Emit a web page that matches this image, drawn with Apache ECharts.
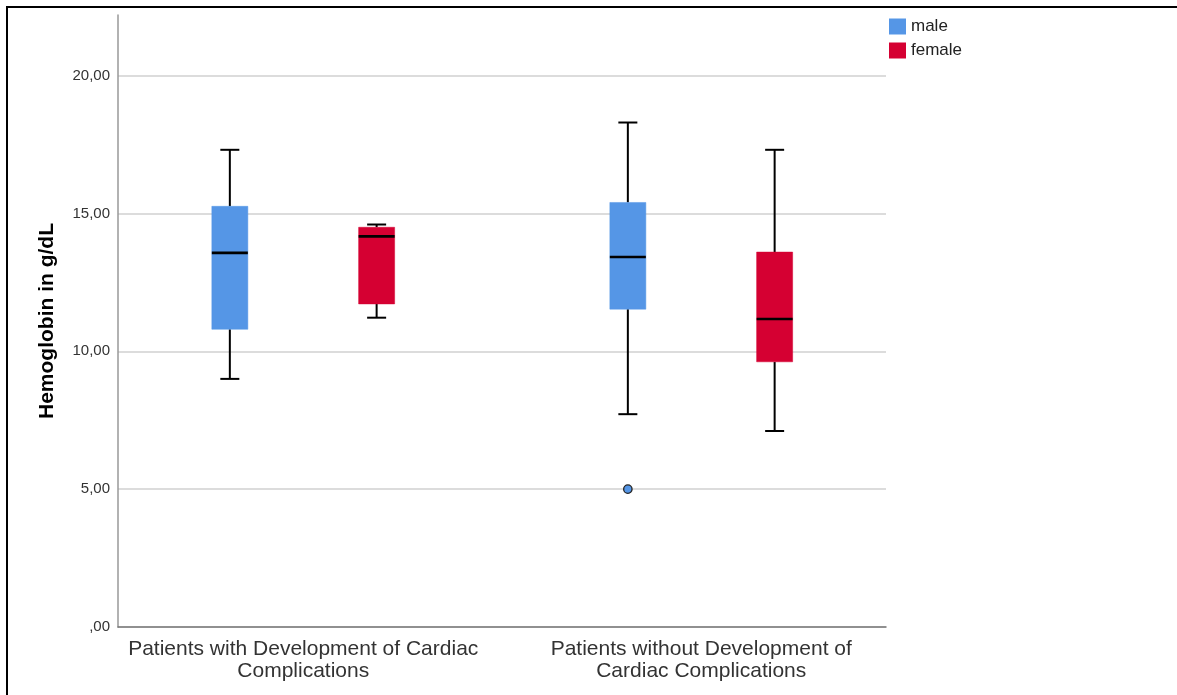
<!DOCTYPE html>
<html>
<head>
<meta charset="utf-8">
<title>Hemoglobin by sex and cardiac complications</title>
<script src="https://cdn.jsdelivr.net/npm/echarts@6/dist/echarts.min.js"></script>
<style>
  html, body { margin: 0; padding: 0; background: #fff; }
  #chart { width: 1177px; height: 695px; }
</style>
</head>
<body>
<div id="chart"></div>
<script>
// Patient groups on the x axis
const categories = [
  'Patients with Development of Cardiac\nComplications',
  'Patients without Development of\nCardiac Complications'
];

// Box statistics per group: [group, lower whisker, Q1, median, Q3, upper whisker]
const maleStats = [
  [0, 9.00, 10.80, 13.57, 15.26, 17.31],
  [1, 7.72, 11.53, 13.42, 15.40, 18.30]
];
const femaleStats = [
  [0, 11.22, 11.72, 14.17, 14.50, 14.60],
  [1, 7.11, 9.62, 11.17, 13.60, 17.31]
];

// Outliers: [group, value]
const maleOutliers = [[1, 5.00]];
const femaleOutliers = [];

const yTicks = [0, 5, 10, 15, 20];

const MALE_COLOR = '#5596E6';
const FEMALE_COLOR = '#D50032';
const FONT = 'Liberation Sans, Arial, sans-serif';

// Sex offset within a group, as a fraction of one group's width
const SIDE_OFFSET = 0.1844;

function fmtComma(v) {
  const s = v.toFixed(2).replace('.', ',');
  return s.startsWith('0,') ? s.slice(1) : s;
}

function boxRenderer(side, color) {
  return function (params, api) {
    const g = api.value(0);
    const cx = api.coord([g + side * SIDE_OFFSET, 0])[0];
    const y = (i) => api.coord([g, api.value(i)])[1];
    const halfBox = 18;
    const halfCap = 9.5;
    const lineStyle = { stroke: '#000', lineWidth: 2 };
    const yLow = y(1), yQ1 = y(2), yMed = y(3), yQ3 = y(4), yHigh = y(5);
    return {
      type: 'group',
      children: [
        { type: 'line', shape: { x1: cx, y1: yQ1, x2: cx, y2: yLow }, style: lineStyle },
        { type: 'line', shape: { x1: cx, y1: yQ3, x2: cx, y2: yHigh }, style: lineStyle },
        { type: 'line', shape: { x1: cx - halfCap, y1: yLow, x2: cx + halfCap, y2: yLow }, style: lineStyle },
        { type: 'line', shape: { x1: cx - halfCap, y1: yHigh, x2: cx + halfCap, y2: yHigh }, style: lineStyle },
        { type: 'rect', shape: { x: cx - halfBox, y: yQ3, width: halfBox * 2, height: yQ1 - yQ3 },
          style: { fill: color, stroke: color, lineWidth: 0.5 } },
        { type: 'line', shape: { x1: cx - halfBox, y1: yMed, x2: cx + halfBox, y2: yMed },
          style: { stroke: '#000', lineWidth: 2.6 } }
      ]
    };
  };
}

function outlierRenderer(side, color) {
  return function (params, api) {
    const g = api.value(0);
    const p = api.coord([g + side * SIDE_OFFSET, api.value(1)]);
    return {
      type: 'circle',
      shape: { cx: p[0], cy: p[1], r: 4.2 },
      style: { fill: color, stroke: '#222', lineWidth: 1.3 }
    };
  };
}

const chart = echarts.init(document.getElementById('chart'), null, { renderer: 'canvas' });

chart.setOption({
  backgroundColor: '#fff',
  animation: false,
  textStyle: { fontFamily: FONT },
  graphic: [{
    type: 'rect',
    z: 100,
    shape: { x: 7, y: 7, width: 1200, height: 800 },
    style: { fill: 'none', stroke: '#000', lineWidth: 2 }
  }],
  legend: {
    data: ['male', 'female'],
    orient: 'vertical',
    left: 889,
    top: 18,
    padding: 0,
    itemWidth: 17,
    itemHeight: 16,
    itemGap: 7,
    icon: 'rect',
    textStyle: { fontSize: 17, color: '#222', fontFamily: FONT }
  },
  grid: { left: 118, right: 291, top: 15, bottom: 68, containLabel: false },
  xAxis: {
    type: 'value',
    min: -0.4654,
    max: 1.4642,
    axisLine: { show: true, onZero: false, lineStyle: { color: '#777', width: 1.5 } },
    axisTick: { show: false },
    splitLine: { show: false },
    axisLabel: {
      customValues: [0, 1],
      formatter: (v) => categories[Math.round(v)],
      fontSize: 21,
      lineHeight: 22,
      color: '#333',
      margin: 11,
      fontFamily: FONT
    }
  },
  yAxis: {
    type: 'value',
    min: 0,
    max: 22.2,
    interval: 5,
    name: 'Hemoglobin in g/dL',
    nameLocation: 'middle',
    nameGap: 60,
    nameTextStyle: { fontSize: 21, fontWeight: 'bold', color: '#000', fontFamily: FONT },
    axisLine: { show: true, onZero: false, lineStyle: { color: '#999', width: 1.5 } },
    axisTick: { show: false },
    splitLine: { show: true, showMaxLine: false, lineStyle: { color: '#d0d0d0', width: 1.5 } },
    axisLabel: {
      customValues: yTicks,
      formatter: (v) => fmtComma(v),
      fontSize: 15,
      color: '#333',
      margin: 8,
      fontFamily: FONT
    }
  },
  series: [
    {
      name: 'male',
      type: 'custom',
      itemStyle: { color: MALE_COLOR },
      renderItem: boxRenderer(-1, MALE_COLOR),
      encode: { x: 0, y: [1, 2, 3, 4, 5] },
      data: maleStats
    },
    {
      name: 'female',
      type: 'custom',
      itemStyle: { color: FEMALE_COLOR },
      renderItem: boxRenderer(1, FEMALE_COLOR),
      encode: { x: 0, y: [1, 2, 3, 4, 5] },
      data: femaleStats
    },
    {
      name: 'male outliers',
      type: 'custom',
      z: 5,
      itemStyle: { color: MALE_COLOR },
      renderItem: outlierRenderer(-1, MALE_COLOR),
      encode: { x: 0, y: 1 },
      data: maleOutliers
    },
    {
      name: 'female outliers',
      type: 'custom',
      z: 5,
      itemStyle: { color: FEMALE_COLOR },
      renderItem: outlierRenderer(1, FEMALE_COLOR),
      encode: { x: 0, y: 1 },
      data: femaleOutliers
    }
  ]
});
</script>
</body>
</html>
